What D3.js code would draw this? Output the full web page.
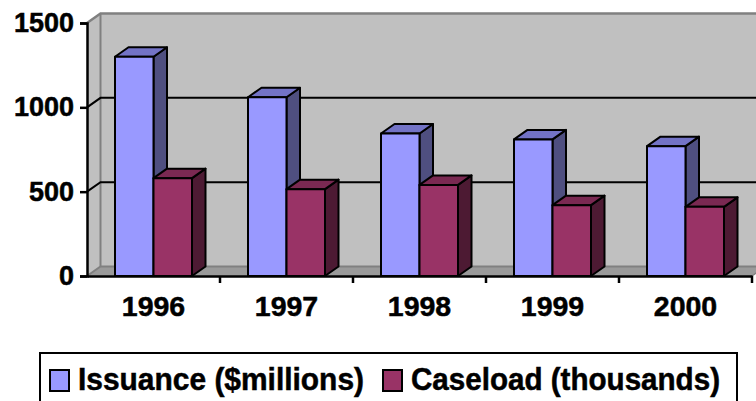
<!DOCTYPE html>
<html>
<head>
<meta charset="utf-8">
<script src="https://cdn.jsdelivr.net/npm/d3@7/dist/d3.min.js"></script>
<style>
  html, body { margin: 0; padding: 0; background: #fff; }
  svg { display: block; }
  text { font-family: "Liberation Sans", Arial, sans-serif; font-weight: bold; fill: #000; stroke: #000; stroke-width: 0.5px; }
</style>
</head>
<body>
<svg id="chart" width="756" height="401"></svg>
<script>
// Data
const years = ["1996", "1997", "1998", "1999", "2000"];
const issuance = [1300, 1060, 845, 810, 770];      // $ millions
const caseload = [580, 515, 540, 420, 410];        // thousands
const yTicks = [0, 500, 1000, 1500];
const seriesNames = ["Issuance ($millions)", "Caseload (thousands)"];

// Colours: front, top, side faces
const palette = [
  { front: "#9999ff", top: "#7373c6", side: "#4f4f80" },
  { front: "#993366", top: "#7a2952", side: "#4d1a33" }
];

const svg = d3.select("#chart");

// Plot geometry (front plane) and depth offset of the 3D box
const x0 = 87, x1 = 752, yTop = 23, yBottom = 276;
const dx = 13.5, dy = -9.5;

const x = d3.scaleBand().domain(years).range([x0, x1]).paddingInner(0).paddingOuter(0);
const y = d3.scaleLinear().domain([0, 1500]).range([yBottom, yTop]);
const barW = 38.5;

// Back wall
svg.append("rect")
  .attr("x", x0 + dx).attr("y", yTop + dy)
  .attr("width", 756 - (x0 + dx) + 20).attr("height", yBottom - yTop)
  .attr("fill", "#c0c0c0");

// Side wall
svg.append("path")
  .attr("d", `M${x0},${yBottom}L${x0},${yTop}L${x0+dx},${yTop+dy}L${x0+dx},${yBottom+dy}Z`)
  .attr("fill", "#c0c0c0");

// Floor
svg.append("path")
  .attr("d", `M${x0},${yBottom}L${x1},${yBottom}L${x1+dx},${yBottom+dy}L${x0+dx},${yBottom+dy}Z`)
  .attr("fill", "#9a9a9a");

// Wall edges
svg.append("path")
  .attr("d", `M${x0},${yTop}L${x0+dx},${yTop+dy}L${760},${yTop+dy}`)
  .attr("fill", "none").attr("stroke", "#808080").attr("stroke-width", 2.5);
svg.append("line")
  .attr("x1", x0 + dx).attr("x2", x0 + dx)
  .attr("y1", yTop + dy).attr("y2", yBottom + dy)
  .attr("stroke", "#808080").attr("stroke-width", 2);
svg.append("path")
  .attr("d", `M${x0},${yBottom}L${x0+dx},${yBottom+dy}L${760},${yBottom+dy}`)
  .attr("fill", "none").attr("stroke", "#808080").attr("stroke-width", 2);
svg.append("line")
  .attr("x1", x1).attr("x2", x1 + dx)
  .attr("y1", yBottom).attr("y2", yBottom + dy)
  .attr("stroke", "#808080").attr("stroke-width", 1.5);

// Gridlines on side and back walls
const grid = svg.append("g").attr("fill", "none").attr("stroke", "#000").attr("stroke-width", 2);
yTicks.filter(t => t > 0 && t < 1500).forEach(t => {
  grid.append("path")
    .attr("d", `M${x0},${y(t)}L${x0+dx},${y(t)+dy}L${760},${y(t)+dy}`);
});

// Bars
const bars = svg.append("g").attr("stroke", "#000").attr("stroke-width", 2).attr("stroke-linejoin", "round");
const series = [issuance, caseload];
years.forEach((yr, i) => {
  const cx = x(yr) + x.bandwidth() / 2;
  series.forEach((vals, s) => {
    const bx = cx - barW + s * barW;
    const by = y(vals[i]);
    const c = palette[s];
    const g = bars.append("g");
    // side face
    g.append("path")
      .attr("d", `M${bx+barW},${yBottom}L${bx+barW},${by}L${bx+barW+dx},${by+dy}L${bx+barW+dx},${yBottom+dy}Z`)
      .attr("fill", c.side);
    // top face
    g.append("path")
      .attr("d", `M${bx},${by}L${bx+dx},${by+dy}L${bx+barW+dx},${by+dy}L${bx+barW},${by}Z`)
      .attr("fill", c.top);
    // front face
    g.append("rect")
      .attr("x", bx).attr("y", by)
      .attr("width", barW).attr("height", yBottom - by)
      .attr("fill", c.front);
  });
});

// Axes
const yAxis = d3.axisLeft(y).tickValues(yTicks).tickFormat(d3.format("d")).tickSize(7).tickPadding(6);
const gy = svg.append("g").attr("transform", `translate(${x0},0)`).call(yAxis);
gy.select(".domain").attr("stroke", "#000").attr("stroke-width", 2.5);
gy.selectAll(".tick line").attr("stroke", "#000").attr("stroke-width", 2.5);
gy.selectAll(".tick text")
  .attr("font-size", 27).attr("font-family", "Liberation Sans, Arial, sans-serif")
  .attr("font-weight", "bold").attr("fill", "#000");

const xAxis = d3.axisBottom(x).tickSize(0).tickPadding(20);
const gx = svg.append("g").attr("transform", `translate(0,${yBottom})`).call(xAxis);
gx.select(".domain").attr("stroke", "#000").attr("stroke-width", 2.5);
gx.selectAll(".tick text")
  .attr("font-size", 28.5).attr("font-family", "Liberation Sans, Arial, sans-serif")
  .attr("font-weight", "bold").attr("fill", "#000");
// category boundary ticks
gx.selectAll(".bound").data(years.slice(1).concat(["__end"]))
  .enter().append("line")
  .attr("x1", d => d === "__end" ? x1 : x(d)).attr("x2", d => d === "__end" ? x1 : x(d))
  .attr("y1", 0).attr("y2", 7)
  .attr("stroke", "#000").attr("stroke-width", 2.5);

// Legend
const lg = svg.append("g");
lg.append("rect").attr("x", 40).attr("y", 353).attr("width", 697).attr("height", 60)
  .attr("fill", "#fff").attr("stroke", "#000").attr("stroke-width", 2);
const legendX = [50, 383];
const legendLen = [286, 309];
seriesNames.forEach((name, s) => {
  lg.append("rect").attr("x", legendX[s]).attr("y", 370).attr("width", 19).attr("height", 21)
    .attr("fill", palette[s].front).attr("stroke", "#000").attr("stroke-width", 2);
  lg.append("text").attr("x", legendX[s] + 28).attr("y", 390)
    .attr("font-size", 31)
    .attr("textLength", legendLen[s]).attr("lengthAdjust", "spacingAndGlyphs")
    .text(name);
});
</script>
</body>
</html>
